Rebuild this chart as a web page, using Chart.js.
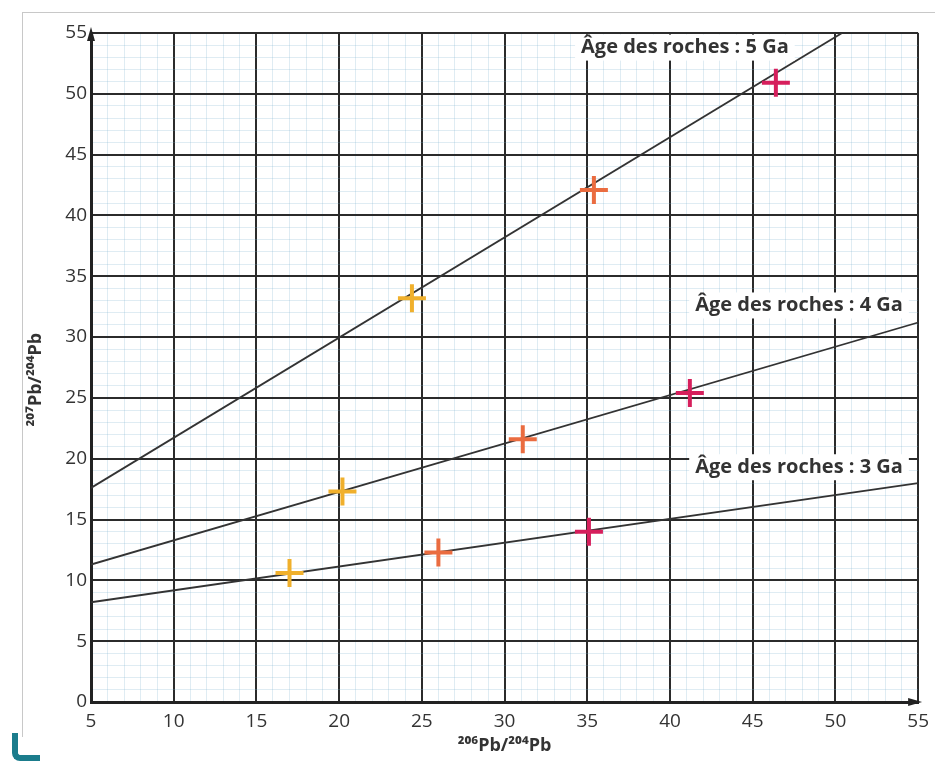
<!DOCTYPE html>
<html>
<head>
<meta charset="utf-8">
<script src="https://cdn.jsdelivr.net/npm/chart.js@4.4.1/dist/chart.umd.min.js"></script>
<style>
  body { margin: 0; background: #fff; }
  #wrap { position: relative; width: 937px; height: 761px; }
  #frame { position: absolute; left: 22px; top: 12px; width: 912px; height: 724px;
           border-left: 1px solid #c8c8c8; border-top: 1px solid #c8c8c8; }
  #corner { position: absolute; left: 12px; top: 733px; width: 22px; height: 22px;
            border-left: 6px solid #1b7c8c; border-bottom: 6px solid #1b7c8c;
            border-bottom-left-radius: 8px; }
</style>
</head>
<body>
<div id="wrap">
  <div id="frame"></div>
  <div id="corner"></div>
  <canvas id="myChart"></canvas>
</div>
<script>
// samples, grouped by cross colour
const yellowX = [17.0, 20.2, 24.4];
const yellowY = [10.6, 17.3, 33.2];
const orangeX = [26.0, 31.1, 35.4];
const orangeY = [12.3, 21.6, 42.1];
const pinkX = [35.1, 41.2, 46.4];
const pinkY = [14.0, 25.4, 50.9];

// isochrons (end points)
const line3X = [5, 55];
const line3Y = [8.2, 18.0];
const line4X = [5, 55];
const line4Y = [11.3, 31.2];
const line5X = [5, 50.4];
const line5Y = [17.6, 55];

const lineLabels = ['Âge des roches : 5 Ga', 'Âge des roches : 4 Ga', 'Âge des roches : 3 Ga'];
const xTitle = '²⁰⁶Pb/²⁰⁴Pb';
const yTitle = '²⁰⁷Pb/²⁰⁴Pb';

const pts = (xs, ys) => xs.map((x, i) => ({ x: x, y: ys[i] }));

const labelAt = [[40.9, 53.8], [47.8, 32.6], [47.8, 19.3]];

const extras = {
  id: 'extras',
  afterDatasetsDraw(chart) {
    const { ctx, scales: { x, y }, chartArea: a } = chart;
    ctx.save();
    // axis arrows
    ctx.fillStyle = '#222';
    ctx.beginPath();
    ctx.moveTo(a.left, a.top - 6); ctx.lineTo(a.left - 4, a.top + 8); ctx.lineTo(a.left + 4, a.top + 8);
    ctx.fill();
    ctx.beginPath();
    ctx.moveTo(a.right + 4, a.bottom); ctx.lineTo(a.right - 10, a.bottom - 4); ctx.lineTo(a.right - 10, a.bottom + 4);
    ctx.fill();
    // line labels
    ctx.font = 'bold 20px "Open Sans"';
    ctx.textAlign = 'center';
    ctx.textBaseline = 'middle';
    lineLabels.forEach((t, i) => {
      const px = x.getPixelForValue(labelAt[i][0]);
      const py = y.getPixelForValue(labelAt[i][1]);
      const w = ctx.measureText(t).width;
      ctx.fillStyle = '#fff';
      ctx.fillRect(px - w / 2 - 6, py - 13, w + 12, 26);
      ctx.fillStyle = '#333';
      ctx.fillText(t, px, py);
    });
    // axis titles
    ctx.font = 'bold 18px "Open Sans"';
    ctx.fillText(xTitle, x.getPixelForValue(30), a.bottom + 44);
    ctx.translate(36, y.getPixelForValue(26.5));
    ctx.rotate(-Math.PI / 2);
    ctx.fillText(yTitle, 0, 0);
    ctx.restore();
  }
};

const lineDs = (xs, ys) => ({
  type: 'line', data: pts(xs, ys), borderColor: '#333', borderWidth: 1.8,
  pointRadius: 0, fill: false, order: 2
});
const crossDs = (xs, ys, c) => ({
  type: 'scatter', data: pts(xs, ys), pointStyle: 'cross', pointRadius: 14,
  borderColor: c, borderWidth: 4, order: 1
});

const gridColor = ctx => (ctx.tick && ctx.tick.value % 5 === 0) ? '#2b2b2b' : 'rgba(120,175,205,0.3)';
const gridWidth = ctx => (ctx.tick && ctx.tick.value % 5 === 0) ? 2 : 0.8;
const tickCb = v => (v % 5 === 0 ? v : '');

new Chart(document.getElementById('myChart'), {
  type: 'scatter',
  data: {
    datasets: [
      lineDs(line3X, line3Y), lineDs(line4X, line4Y), lineDs(line5X, line5Y),
      crossDs(yellowX, yellowY, '#f0b02c'),
      crossDs(orangeX, orangeY, '#ea6c40'),
      crossDs(pinkX, pinkY, '#d61f5c')
    ]
  },
  options: {
    responsive: true, maintainAspectRatio: false, animation: false,
    layout: { padding: { top: 33, right: 16, left: 0, bottom: 0 } },
    plugins: { legend: { display: false }, tooltip: { enabled: false } },
    scales: {
      x: {
        type: 'linear', min: 5, max: 55,
        afterFit: s => { s.height = 59; },
        ticks: { stepSize: 1, autoSkip: false, maxRotation: 0, callback: tickCb,
                 color: '#333', padding: 8, font: { family: 'Open Sans', size: 19 } },
        grid: { color: gridColor, lineWidth: gridWidth, drawTicks: false },
        border: { color: '#222', width: 3 }
      },
      y: {
        type: 'linear', min: 0, max: 55,
        afterFit: s => { s.width = 91; },
        ticks: { stepSize: 1, autoSkip: false, callback: tickCb,
                 color: '#333', padding: 4, font: { family: 'Open Sans', size: 19 } },
        grid: { color: gridColor, lineWidth: gridWidth, drawTicks: false },
        border: { color: '#222', width: 3 }
      }
    }
  },
  plugins: [extras]
});
</script>
</body>
</html>
